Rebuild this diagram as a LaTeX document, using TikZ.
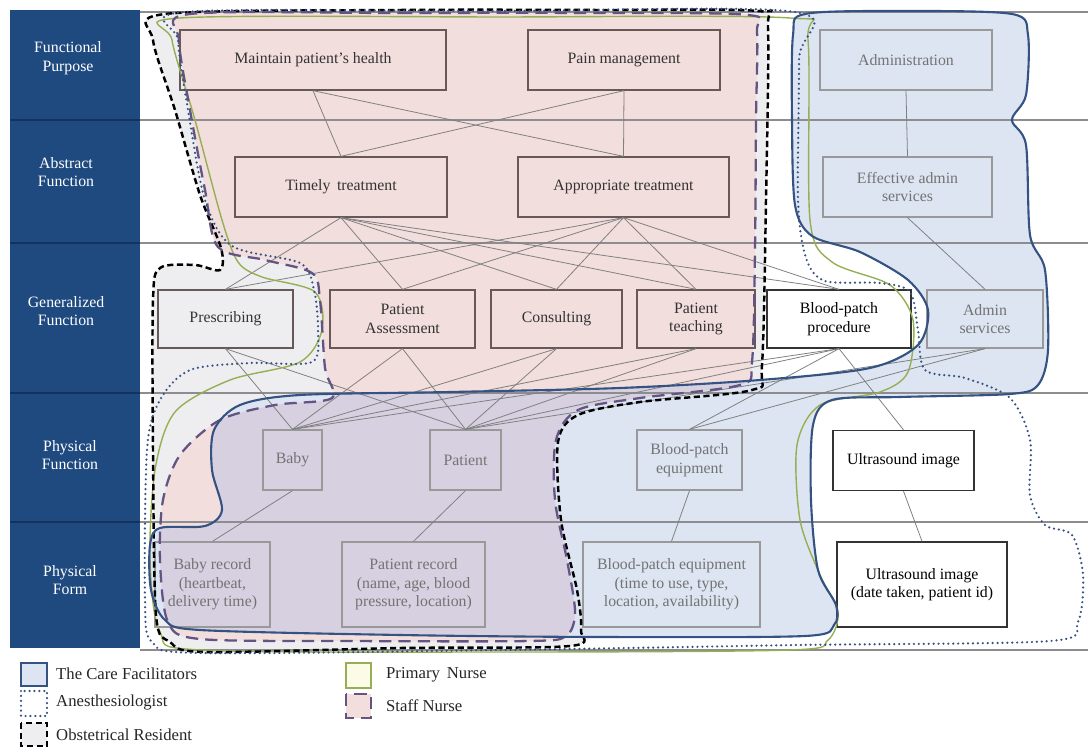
\documentclass[tikz,border=0pt]{standalone}
\usepackage{fontspec}
\setmainfont{Liberation Serif}
\definecolor{colbar}{RGB}{31,74,128}
\definecolor{colbarline}{RGB}{20,50,92}
\definecolor{carefill}{RGB}{220,229,241}
\definecolor{careline}{RGB}{52,82,130}
\definecolor{stafffill}{RGB}{242,222,221}
\definecolor{staffline}{RGB}{100,84,130}
\definecolor{bothfill}{RGB}{214,208,224}
\definecolor{obstfill}{RGB}{238,238,241}
\definecolor{primline}{RGB}{150,175,85}
\definecolor{primfill}{RGB}{251,251,232}
\definecolor{boxline}{RGB}{105,88,88}
\definecolor{rowgray}{RGB}{140,140,145}
\newcommand\carepath{plot[smooth cycle, tension=0.5] coordinates {(805,14) (900,11) (1012,14) (1028,35) (1026,95) (1012,120) (1026,145) (1030,235) (1045,270) (1048,350) (1038,385) (1010,394) (900,397) (832,400) (813,425) (811,500) (818,570) (836,605) (834,625) (805,636) (600,637) (400,635) (200,630) (165,620) (151,590) (150,545) (160,528) (205,526) (222,510) (212,470) (214,430) (240,405) (300,395) (450,392) (620,388) (760,380) (870,368) (918,345) (928,310) (908,280) (860,252) (812,236) (795,205) (792,120) (793,35)}}
\newcommand\staffpath{plot[smooth cycle, tension=0.5] coordinates {(190,14) (400,13) (600,13) (748,15) (757,32) (756,120) (755,250) (752,362) (740,385) (640,398) (578,410) (556,440) (555,500) (567,560) (575,612) (566,636) (530,641) (350,641) (200,639) (168,622) (160,560) (163,500) (180,455) (220,420) (275,405) (332,398) (325,368) (320,300) (312,273) (265,260) (218,247) (205,190) (190,110) (179,40)}}
\newcommand\obstpath{plot[smooth cycle, tension=0.5] coordinates {(165,14) (400,10) (600,10) (758,11) (768,28) (766,200) (762,365) (752,390) (640,402) (578,415) (558,442) (561,520) (577,590) (581,630) (570,646) (400,648) (205,652) (170,642) (156,615) (153,450) (153,300) (160,268) (195,265) (220,270) (221,248) (200,195) (175,110) (153,40)}}
\newcommand\anestpath{plot[smooth cycle, tension=0.5] coordinates {(185,12) (500,11) (795,12) (799,60) (798,200) (806,258) (825,281) (880,283) (910,292) (918,330) (925,370) (965,378) (1010,398) (1030,440) (1030,495) (1045,525) (1072,535) (1083,575) (1078,622) (1050,641) (800,645) (500,650) (200,653) (152,642) (145,600) (147,450) (160,400) (190,370) (250,363) (312,362) (318,330) (314,290) (300,263) (232,246) (205,200) (188,110) (178,40)}}
\newcommand\primpath{plot[smooth cycle, tension=0.5] coordinates {(180,18) (500,17) (790,18) (808,40) (810,220) (832,262) (890,285) (913,320) (908,372) (880,392) (820,405) (797,445) (800,520) (820,575) (838,612) (828,640) (790,650) (500,652) (200,650) (160,632) (150,560) (155,470) (175,412) (230,380) (300,362) (322,330) (315,292) (262,277) (238,262) (222,220) (195,120) (172,40)}}
\begin{document}
\begin{tikzpicture}[x=0.02cm, y=-0.02cm,
  box/.style={draw=boxline, line width=0.75pt, align=center, inner sep=1pt, text=black!80,
    font=\fontsize{9}{10.5}\selectfont, minimum height=1.2cm},
  admbox/.style={box, draw=black!40, text=black!55},
  usbox/.style={box, draw=black!80, text=black, fill=white},
  link/.style={draw=black!50, line width=0.45pt},
  rowline/.style={draw=rowgray, line width=0.6pt},
  rowlabel/.style={text=white, align=center, font=\fontsize{9}{10.5}\selectfont},
  keytext/.style={anchor=west, text=black!85, font=\fontsize{9.5}{11}\selectfont},
  care/.style={draw=careline, line width=1.2pt},
  anest/.style={draw=careline, line width=1.4pt, line cap=round, dash pattern=on 0pt off 2.8pt},
  obst/.style={draw=black, line width=1.4pt, dash pattern=on 3.5pt off 2pt},
  staff/.style={draw=staffline, line width=1.3pt, dash pattern=on 7pt off 4pt},
  prim/.style={draw=primline, line width=0.8pt}]
\useasboundingbox (0,0) rectangle (1088,749);
\fill[obstfill] \obstpath;
\fill[stafffill] \staffpath;
\fill[carefill] \carepath;
\begin{scope}
\clip \staffpath;
\fill[bothfill] \carepath;
\end{scope}
\foreach \a/\b in {10/120,120/243,243/393,393/522,522/648}
  \fill[colbar] (10,\a) rectangle (140,\b);
\foreach \y in {120,243,393,522}
  \draw[colbarline, line width=1pt] (10,\y) -- (140,\y);
\foreach \y in {12,120,243,393,522,650}
  \draw[rowline] (140,\y) -- (1088,\y);
\node[rowlabel] (fp) at (68,58) {Functional\\Purpose};
\node[rowlabel] (af) at (66,172) {Abstract\\Function};
\node[rowlabel] (gf) at (66,311) {Generalized\\Function};
\node[rowlabel] (pf) at (70,455) {Physical\\Function};
\node[rowlabel] (pfo) at (70,580) {Physical\\Form};
\node[box, minimum width=5.32cm] (mph) at (313,60) {Maintain patient's health};
\node[box, minimum width=3.84cm] (pain) at (624,60) {Pain management};
\node[admbox, minimum width=3.44cm] (admin) at (906,60) {Administration};
\node[box, minimum width=4.24cm] (timely) at (341,187) {Timely\, treatment};
\node[box, minimum width=4.22cm] (approp) at (623.5,187) {Appropriate treatment};
\node[admbox, minimum width=3.38cm] (effadm) at (907.5,187) {Effective admin\\services};
\node[box, minimum width=2.7cm, minimum height=1.16cm] (presc) at (225.5,319) {Prescribing};
\node[box, minimum width=2.9cm, minimum height=1.16cm] (passess) at (402.5,319) {Patient\\Assessment};
\node[box, minimum width=2.62cm, minimum height=1.16cm] (consult) at (556.5,319) {Consulting};
\node[box, minimum width=2.36cm, minimum height=1.16cm] (pteach) at (696,319) {Patient\\teaching};
\node[usbox, minimum width=2.88cm, minimum height=1.16cm] (bpproc) at (839,319) {Blood-patch\\procedure};
\node[admbox, minimum width=2.32cm, minimum height=1.16cm] (admsrv) at (985,319) {Admin\\services};
\node[admbox, minimum width=1.18cm] (baby) at (292.5,460) {Baby};
\node[admbox, minimum width=1.42cm] (patient) at (465.5,460) {Patient};
\node[admbox, minimum width=2.1cm] (bpequip) at (689.5,460) {Blood-patch\\equipment};
\node[usbox, minimum width=2.82cm] (usimg) at (903.5,460.5) {Ultrasound image};
\node[admbox, minimum width=2.3cm, minimum height=1.7cm] (babyrec) at (212.5,584.5) {Baby record\\(heartbeat,\\delivery time)};
\node[admbox, minimum width=2.86cm, minimum height=1.7cm] (patrec) at (413.5,584.5) {Patient record\\(name, age, blood\\pressure, location)};
\node[admbox, minimum width=3.54cm, minimum height=1.7cm] (bprec) at (671.5,584.5) {Blood-patch equipment\\(time to use, type,\\location, availability)};
\node[usbox, minimum width=3.4cm, minimum height=1.7cm] (usrec) at (922,584.5) {Ultrasound image\\(date taken, patient id)};
\foreach \a in {mph,pain}
  \foreach \b in {timely,approp}
    \draw[link] (\a.south) -- (\b.north);
\draw[link] (admin.south) -- (effadm.north);
\draw[link] (effadm.south) -- (admsrv.north);
\foreach \a in {timely,approp}
  \foreach \b in {presc,passess,consult,pteach,bpproc}
    \draw[link] (\a.south) -- (\b.north);
\foreach \a in {presc,passess,consult,pteach,bpproc}
  \foreach \b in {baby,patient}
    \draw[link] (\a.south) -- (\b.north);
\draw[link] (bpproc.south) -- (bpequip.north);
\draw[link] (bpproc.south) -- (usimg.north);
\draw[link] (admsrv.south) -- (bpequip.north);
\draw[link] (admsrv.south) -- (patient.north);
\draw[link] (baby.south) -- (babyrec.north);
\draw[link] (patient.south) -- (patrec.north);
\draw[link] (bpequip.south) -- (bprec.north);
\draw[link] (usimg.south) -- (usrec.north);
\draw[prim] \primpath;
\draw[obst] \obstpath;
\draw[staff] \staffpath;
\draw[anest] \anestpath;
\draw[care] \carepath;
\draw[care, fill=carefill] (21,663) rectangle (47,686);
\draw[anest] (21,691) rectangle (47,716);
\draw[obst, fill=obstfill] (21,723) rectangle (47,746);
\draw[prim, line width=1.2pt, fill=primfill] (346,663) rectangle (371,688);
\draw[staff, fill=stafffill] (346,694) rectangle (371,718);
\node[keytext] (kcare) at (50,674) {The Care Facilitators};
\node[keytext] (kanest) at (50,703) {Anesthesiologist};
\node[keytext] (kobst) at (50,735) {Obstetrical Resident};
\node[keytext] (kprim) at (380,675) {Primary\, Nurse};
\node[keytext] (kstaff) at (380,706) {Staff Nurse};
\end{tikzpicture}
\end{document}
